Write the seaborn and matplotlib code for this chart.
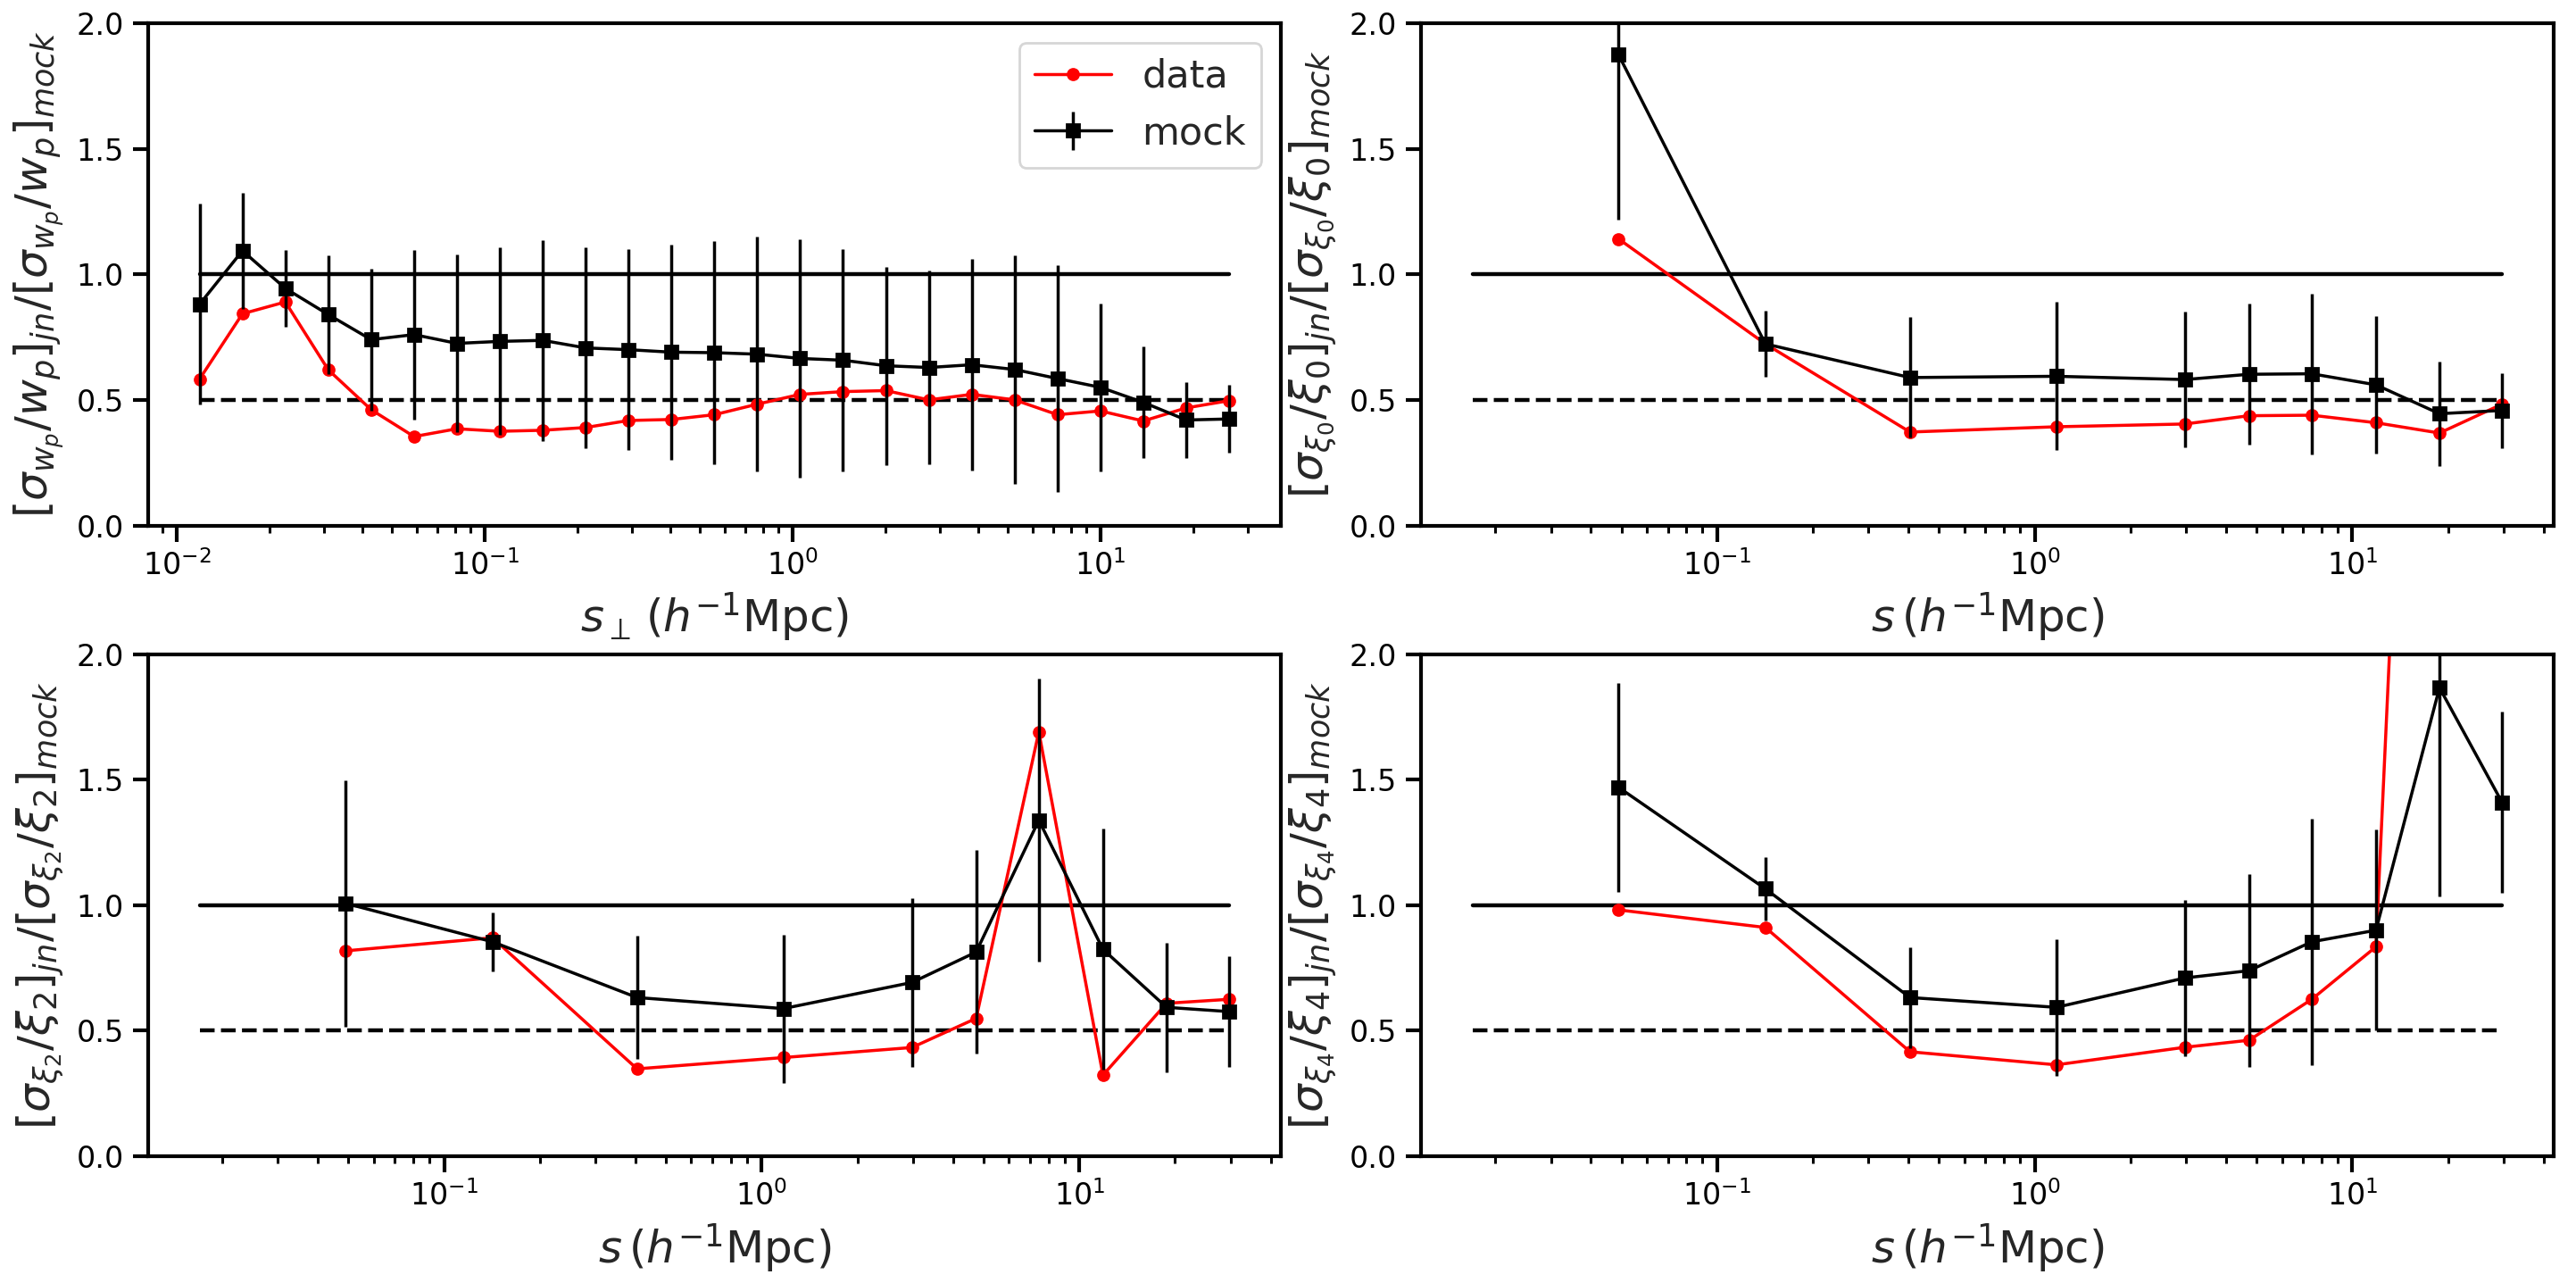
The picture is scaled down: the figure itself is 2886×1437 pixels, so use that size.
import numpy as np
import pandas as pd
import matplotlib
matplotlib.use('Agg')
import matplotlib.pyplot as plt
import seaborn as sns

# projected separation bins (w_p panel)
rp_x = [0.01186, 0.01634, 0.02252, 0.03103, 0.04277, 0.05894, 0.08124, 0.1120,
        0.1543, 0.2127, 0.2931, 0.4040, 0.5568, 0.7674, 1.057, 1.457, 2.009,
        2.768, 3.815, 5.258, 7.244, 9.984, 13.76, 18.96, 26.14]
wp_data = [0.583, 0.843, 0.89, 0.62, 0.461, 0.354, 0.385, 0.375, 0.379, 0.39,
           0.418, 0.422, 0.441, 0.483, 0.522, 0.533, 0.537, 0.50, 0.522, 0.50,
           0.441, 0.456, 0.416, 0.468, 0.497]
wp_mock = [0.881, 1.094, 0.944, 0.84, 0.74, 0.76, 0.725, 0.733, 0.737, 0.707,
           0.70, 0.69, 0.688, 0.682, 0.665, 0.658, 0.636, 0.629, 0.640, 0.621,
           0.585, 0.55, 0.49, 0.42, 0.424]
wp_err = [0.40, 0.23, 0.153, 0.237, 0.283, 0.337, 0.355, 0.373, 0.40, 0.40,
          0.40, 0.43, 0.445, 0.468, 0.473, 0.443, 0.395, 0.385, 0.42, 0.455,
          0.45, 0.335, 0.223, 0.152, 0.135]

# redshift-space separation bins (multipole panels)
s_x = [0.049, 0.142, 0.405, 1.17, 2.97, 4.73, 7.45, 11.86, 18.8, 29.6]
xi0_data = [1.141, 0.723, 0.372, 0.393, 0.404, 0.437, 0.439, 0.409, 0.368, 0.483]
xi0_mock = [1.874, 0.723, 0.589, 0.594, 0.581, 0.602, 0.604, 0.56, 0.445, 0.458]
xi0_err = [0.655, 0.132, 0.24, 0.295, 0.27, 0.28, 0.32, 0.274, 0.208, 0.149]

xi2_data = [0.818, 0.87, 0.348, 0.393, 0.433, 0.549, 1.69, 0.323, 0.609, 0.625]
xi2_mock = [1.007, 0.854, 0.632, 0.588, 0.692, 0.813, 1.338, 0.824, 0.593, 0.576]
xi2_err = [0.49, 0.118, 0.245, 0.295, 0.335, 0.405, 0.563, 0.48, 0.257, 0.22]

xi4_data = [0.981, 0.911, 0.416, 0.364, 0.434, 0.462, 0.625, 0.834, 6.3, 3.0]
xi4_mock = [1.469, 1.065, 0.632, 0.593, 0.71, 0.739, 0.854, 0.9, 1.866, 1.409]
xi4_err = [0.415, 0.127, 0.20, 0.272, 0.31, 0.383, 0.49, 0.40, 0.833, 0.36]

# x extent of the reference lines at 1 and 0.5
wp_ref_x = [rp_x[0], rp_x[-1]]
xi_ref_x = [0.017, 29.6]

xlabel_rp = r'$s_{\perp}\,(h^{-1}{\rm Mpc})$'
xlabel_s = r'$s\,(h^{-1}{\rm Mpc})$'
ylabels = [r'$[\sigma_{w_p}/w_p]_{jn}/[\sigma_{w_p}/w_p]_{mock}$',
           r'$[\sigma_{\xi_0}/\xi_0]_{jn}/[\sigma_{\xi_0}/\xi_0]_{mock}$',
           r'$[\sigma_{\xi_2}/\xi_2]_{jn}/[\sigma_{\xi_2}/\xi_2]_{mock}$',
           r'$[\sigma_{\xi_4}/\xi_4]_{jn}/[\sigma_{\xi_4}/\xi_4]_{mock}$']

sns.set_style('ticks')
plt.rcParams.update({
    'axes.linewidth': 1.5,
    'xtick.major.size': 6.3, 'ytick.major.size': 6.3,
    'xtick.major.width': 1.5, 'ytick.major.width': 1.5,
    'xtick.minor.size': 2.7, 'ytick.minor.size': 2.7,
    'xtick.minor.width': 1.1, 'ytick.minor.width': 1.1,
    'xtick.major.pad': 3.5, 'ytick.major.pad': 3.5,
    'xtick.labelsize': 12, 'ytick.labelsize': 12,
    'axes.labelsize': 18, 'legend.fontsize': 15.5,
    'axes.edgecolor': 'black', 'xtick.color': 'black', 'ytick.color': 'black',
})

fig, axes = plt.subplots(2, 2, figsize=(14.43, 7.185), dpi=200)
fig.subplots_adjust(left=0.0575, right=0.9913, bottom=0.0988, top=0.9819,
                    wspace=0.124, hspace=0.256)

panels = [
    (rp_x, wp_data, wp_mock, wp_err, wp_ref_x, xlabel_rp),
    (s_x, xi0_data, xi0_mock, xi0_err, xi_ref_x, xlabel_s),
    (s_x, xi2_data, xi2_mock, xi2_err, xi_ref_x, xlabel_s),
    (s_x, xi4_data, xi4_mock, xi4_err, xi_ref_x, xlabel_s),
]

for k, (ax, (x, dat, mock, err, refx, xlab)) in enumerate(zip(axes.flat, panels)):
    ax.plot(refx, [1.0, 1.0], color='black', lw=1.6)
    ax.plot(refx, [0.5, 0.5], color='black', lw=1.6, ls='--')
    df = pd.DataFrame({'x': x, 'y': dat})
    sns.lineplot(data=df, x='x', y='y', ax=ax, color='red', marker='o',
                 markersize=5.3, markeredgewidth=0, lw=1.25, label='data',
                 legend=False)
    ax.errorbar(x, mock, yerr=err, color='black', marker='s', ms=5.3,
                lw=1.25, elinewidth=1.25, capsize=0, label='mock')
    ax.set_xscale('log')
    ax.set_ylim(0, 2)
    ax.set_yticks([0.0, 0.5, 1.0, 1.5, 2.0])
    ax.set_xlabel(xlab)
    ax.set_ylabel(ylabels[k])
    if k == 0:
        ax.legend(loc='upper right')

fig.savefig('out.png', dpi=200)
